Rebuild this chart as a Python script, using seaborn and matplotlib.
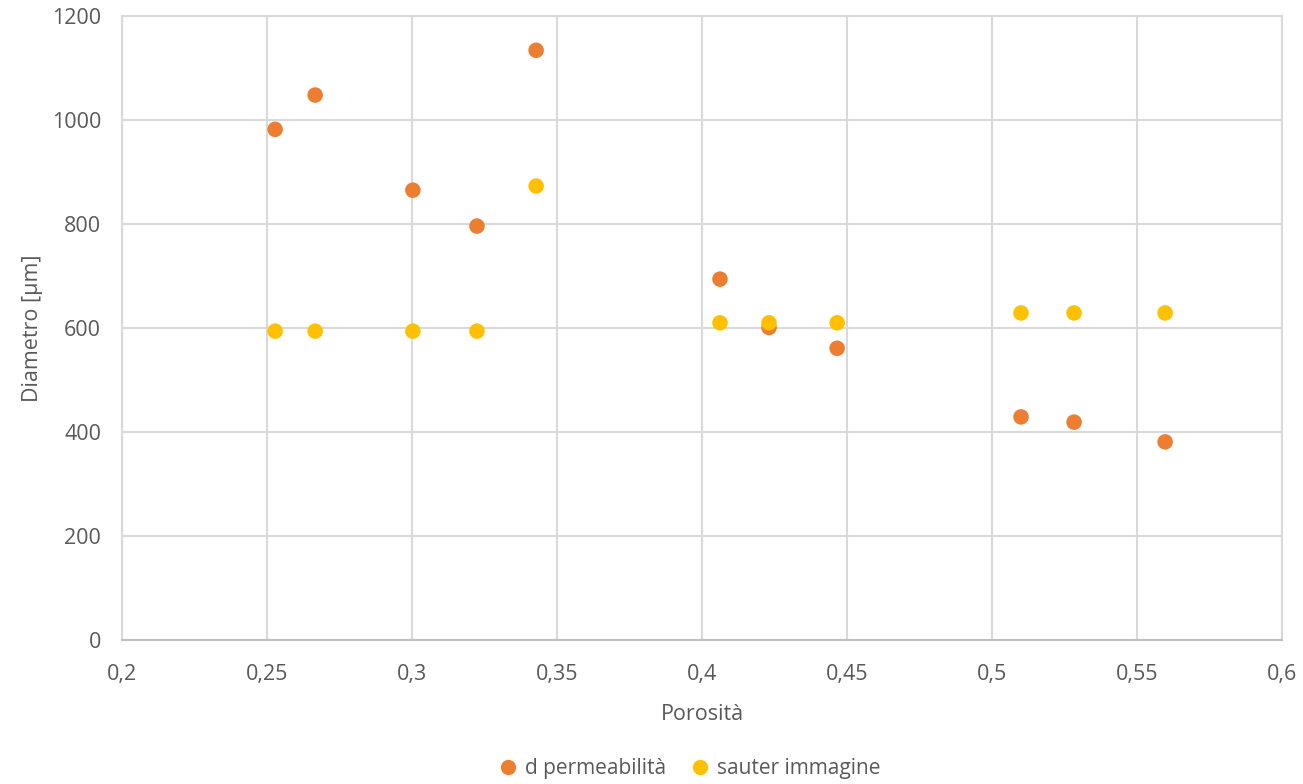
import matplotlib
matplotlib.use("Agg")
import matplotlib.pyplot as plt
import seaborn as sns
import pandas as pd
from matplotlib.ticker import FuncFormatter, MultipleLocator
from matplotlib.lines import Line2D

porosita = [0.2528, 0.2666, 0.3003, 0.3224, 0.3428, 0.4062, 0.4231, 0.4466, 0.5100, 0.5283, 0.5597]
d_permeabilita = [982, 1048, 865, 796, 1134, 694, 601, 561, 429, 419, 381]
sauter_immagine = [594, 594, 594, 594, 873, 610, 610, 610, 629, 629, 629]
series_names = ["d permeabilità", "sauter immagine"]

df = pd.DataFrame({
    "Porosità": porosita * 2,
    "Diametro": d_permeabilita + sauter_immagine,
    "serie": [series_names[0]] * len(porosita) + [series_names[1]] * len(porosita),
})

sns.set_theme(style="white")
plt.rcParams['font.family'] = ['Open Sans', 'DejaVu Sans']

fig = plt.figure(figsize=(13.03, 7.84), dpi=100)
ax = fig.add_axes([122/1303, 1 - 640/784, (1282-122)/1303, (640-16)/784])

palette = {series_names[0]: "#ED7D31", series_names[1]: "#FFC000"}
sns.scatterplot(data=df, x="Porosità", y="Diametro", hue="serie", palette=palette,
                s=125, edgecolor="none", ax=ax, legend=False, zorder=3)

ax.set_xlim(0.2, 0.6)
ax.set_ylim(0, 1200)
ax.xaxis.set_major_locator(MultipleLocator(0.05))
ax.yaxis.set_major_locator(MultipleLocator(200))
ax.xaxis.set_major_formatter(FuncFormatter(lambda v, p: (f"{v:.2f}".rstrip("0").rstrip(".")).replace(".", ",")))
ax.yaxis.set_major_formatter(FuncFormatter(lambda v, p: f"{int(round(v))}"))

grid_c = "#D9D9D9"
ax.grid(True, color=grid_c, linewidth=1.5)
for side in ["top", "right", "left", "bottom"]:
    ax.spines[side].set_visible(True)
    ax.spines[side].set_color(grid_c)
    ax.spines[side].set_linewidth(1.5)
ax.spines["bottom"].set_color("#BFBFBF")

ax.tick_params(axis="x", length=0, labelsize=15.5, labelcolor="#595959", pad=17)
ax.tick_params(axis="y", length=0, labelsize=15.5, labelcolor="#595959", pad=15)
ax.set_xlabel("Porosità", fontsize=15.5, color="#595959", labelpad=14)
ax.set_ylabel("Diametro [µm]", fontsize=15.5, color="#595959", labelpad=6)

handles = [Line2D([], [], marker="o", linestyle="none", markersize=11,
                  markerfacecolor=palette[n], markeredgecolor="none") for n in series_names]
fig.legend(handles, series_names, loc="lower center", bbox_to_anchor=(0.525, -0.018), ncol=2,
           frameon=False, fontsize=15, labelcolor="#595959", handletextpad=-0.2,
           columnspacing=0.65)

fig.savefig("out.png", dpi=100)
